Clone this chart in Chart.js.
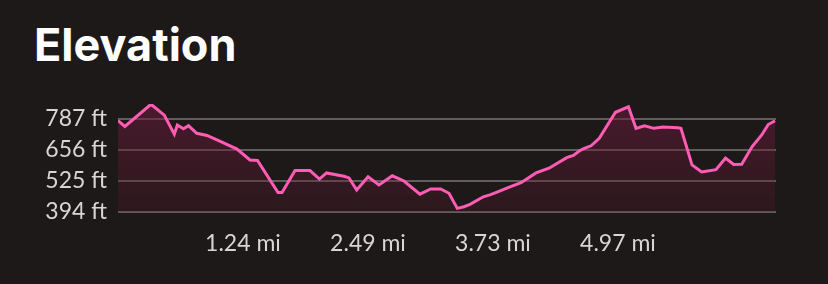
<!DOCTYPE html>
<html>
<head>
<meta charset="utf-8">
<script src="https://cdn.jsdelivr.net/npm/chart.js@4"></script>
<style>
  html, body { margin:0; padding:0; background:#1c1918; }
  #wrap { position:relative; width:828px; height:284px; background:#1c1918; overflow:hidden; }
  #title { position:absolute; left:34px; top:17px; font-family:Inter, Lato, sans-serif; font-weight:700; font-size:45px; line-height:56px; color:#ffffff; font-variant-ligatures:none; letter-spacing:0px; }
  canvas { position:absolute; left:0; top:0; }
</style>
</head>
<body>
<div id="wrap">
  <div id="title">Elevation</div>
  <canvas id="c" width="828" height="284"></canvas>
</div>
<script>
// distance in miles
const distanceMi = [0, 0.068, 0.328, 0.460, 0.560, 0.590, 0.651, 0.701, 0.783, 0.885,
  1.044, 1.183, 1.312, 1.387, 1.591, 1.631, 1.760, 1.909, 2.003, 2.073,
  2.247, 2.297, 2.373, 2.486, 2.595, 2.727, 2.843, 3.002, 3.109, 3.208,
  3.291, 3.373, 3.440, 3.500, 3.632, 3.698, 3.768, 3.897, 4.007, 4.156,
  4.285, 4.461, 4.527, 4.593, 4.636, 4.703, 4.785, 4.946, 5.075, 5.150,
  5.234, 5.329, 5.418, 5.567, 5.597, 5.707, 5.803, 5.945, 6.040, 6.121,
  6.201, 6.305, 6.400, 6.465, 6.532];
// elevation in feet
const elevationFt = [781, 756, 850, 804, 723, 762, 746, 759, 727, 718,
  687, 660, 614, 612, 476, 476, 569, 569, 533, 559,
  545, 538, 487, 543, 508, 547, 525, 469, 491, 491,
  473, 409, 416, 426, 458, 466, 478, 500, 518, 559,
  579, 624, 633, 654, 663, 674, 706, 816, 839, 748,
  759, 748, 754, 750, 748, 593, 563, 573, 622, 595,
  596, 671, 720, 764, 780];
const yTickValues = [393.7, 524.9, 656.2, 787.4];
const yTickLabels = ["394 ft", "525 ft", "656 ft", "787 ft"];
const xTickValues = [1.2427, 2.4855, 3.7282, 4.9710];
const xTickLabels = ["1.24 mi", "2.49 mi", "3.73 mi", "4.97 mi"];

const ctx = document.getElementById('c').getContext('2d');
const points = distanceMi.map((d, i) => ({x: d, y: elevationFt[i]}));

new Chart(ctx, {
  type: 'line',
  data: {
    datasets: [{
      data: points,
      borderColor: '#ff5cb4',
      borderWidth: 3,
      pointRadius: 0,
      tension: 0,
      fill: 'start',
      backgroundColor: (c) => {
        const a = c.chart.chartArea;
        if (!a) return 'rgba(120,30,70,0.4)';
        const g = c.chart.ctx.createLinearGradient(0, a.top, 0, a.bottom);
        g.addColorStop(0, 'rgba(110,26,62,0.58)');
        g.addColorStop(1, 'rgba(90,26,48,0.25)');
        return g;
      }
    }]
  },
  options: {
    responsive: false,
    animation: false,
    layout: { padding: { left: 0, right: 52, top: 104, bottom: 0 } },
    plugins: { legend: { display: false }, tooltip: { enabled: false } },
    scales: {
      x: {
        type: 'linear',
        min: 0,
        max: 6.542,
        afterBuildTicks: (s) => { s.ticks = xTickValues.map(v => ({value: v})); },
        afterFit: (s) => { s.height = 72; },
        grid: { display: false },
        border: { display: false },
        ticks: {
          color: '#d9d5d3',
          font: { family: 'Lato', size: 23 },
          padding: 10,
          maxRotation: 0,
          autoSkip: false,
          callback: (v) => { const i = xTickValues.indexOf(v); return i >= 0 ? xTickLabels[i] : ''; }
        }
      },
      y: {
        min: 393.7,
        max: 851,
        afterBuildTicks: (s) => { s.ticks = yTickValues.map(v => ({value: v})); },
        afterFit: (s) => { s.width = 118; },
        border: { display: false },
        grid: { color: '#625d5b', lineWidth: 2, drawTicks: false },
        ticks: {
          color: '#d9d5d3',
          font: { family: 'Lato', size: 23 },
          padding: 11,
          autoSkip: false,
          callback: (v) => { const i = yTickValues.indexOf(v); return i >= 0 ? yTickLabels[i] : ''; }
        }
      }
    }
  }
});
</script>
</body>
</html>
